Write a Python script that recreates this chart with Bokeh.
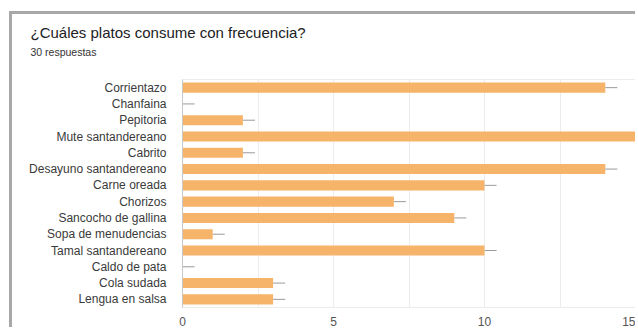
from bokeh.plotting import figure
from bokeh.models import ColumnDataSource, FactorRange, Range1d, FixedTicker, Title
from bokeh.embed import file_html
from bokeh.resources import INLINE

platos = ["Corrientazo", "Chanfaina", "Pepitoria", "Mute santandereano", "Cabrito",
          "Desayuno santandereano", "Carne oreada", "Chorizos", "Sancocho de gallina",
          "Sopa de menudencias", "Tamal santandereano", "Caldo de pata", "Cola sudada",
          "Lengua en salsa"]
respuestas = [14, 0, 2, 15, 2, 14, 10, 7, 9, 1, 10, 0, 3, 3]
major_ticks = [0, 5, 10, 15]
minor_ticks = [2.5, 7.5, 12.5]
titulo = "¿Cuáles platos consume con frecuencia?"
subtitulo = "30 respuestas"

LEAD = 0.4
src = ColumnDataSource(dict(
    plato=platos,
    n=respuestas,
    n_end=[v + LEAD for v in respuestas],
))

p = figure(width=626, height=316, output_backend="svg", toolbar_location=None,
           y_range=FactorRange(factors=list(reversed(platos)), range_padding=0),
           x_range=Range1d(0, 15),
           min_border_left=170, min_border_right=3, min_border_top=65, min_border_bottom=23)
p.styles = {"margin-left": "9px", "margin-top": "11px",
            "border-left": "3px solid #a8a8a8", "border-top": "3px solid #a8a8a8"}

p.hbar(y="plato", left=0, right="n", height=0.62, source=src,
       fill_color="#F6B46B", line_color=None)
p.segment(x0="n", y0="plato", x1="n_end", y1="plato", source=src,
          line_color="#9a9a9a", line_width=1)

p.xaxis.ticker = FixedTicker(ticks=major_ticks, minor_ticks=minor_ticks)
p.xaxis.axis_line_color = None
p.xaxis.major_tick_line_color = None
p.xaxis.minor_tick_line_color = None
p.xaxis.major_label_text_font = "Liberation Sans"
p.xaxis.major_label_text_font_size = "12px"
p.xaxis.major_label_text_color = "#555555"
p.xaxis.major_label_standoff = 3

p.yaxis.axis_line_color = "#c8c8c8"
p.yaxis.major_tick_line_color = None
p.yaxis.minor_tick_line_color = None
p.yaxis.major_label_text_font = "Liberation Sans"
p.yaxis.major_label_text_font_size = "12px"
p.yaxis.major_label_text_color = "#3a3a3a"
p.yaxis.major_label_standoff = 10

p.xgrid.grid_line_color = "#ececec"
p.xgrid.minor_grid_line_color = "#ececec"
p.ygrid.grid_line_color = None
p.outline_line_color = "#ececec"

p.title.text = titulo
p.title.align = "left"
p.title.offset = -152
p.title.standoff = -39
p.title.text_font = "Liberation Sans"
p.title.text_font_size = "15px"
p.title.text_font_style = "normal"
p.title.text_color = "#202124"

p.add_layout(Title(text=subtitulo, align="left", offset=-152, standoff=44,
                   text_font="Liberation Sans", text_font_size="10.5px",
                   text_font_style="normal", text_color="#333333"), "above")

open("out.html", "w").write(file_html(p, INLINE))
